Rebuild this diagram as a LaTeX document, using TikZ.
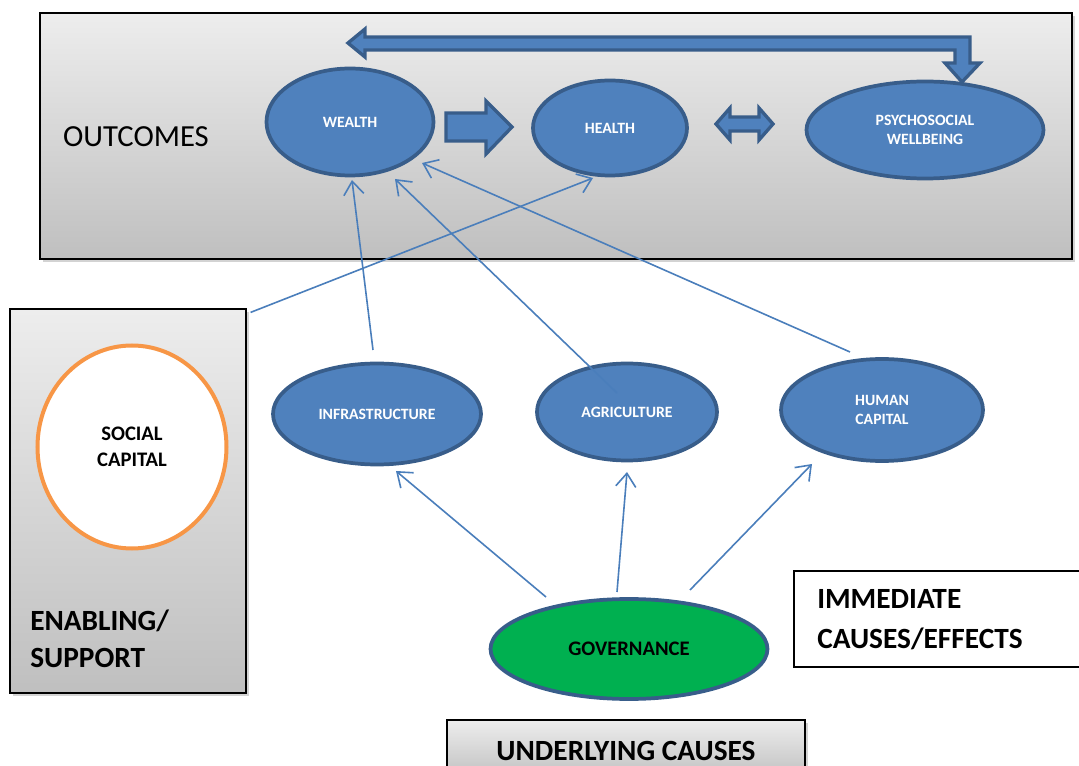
\documentclass[tikz,border=0pt]{standalone}
\usepackage{fontspec}
\setmainfont{Carlito}
\usetikzlibrary{shapes.geometric,arrows.meta,calc,shadows}
\definecolor{nodeblue}{HTML}{4F81BD}
\definecolor{nodeedge}{HTML}{385D8A}
\definecolor{linkblue}{HTML}{4A7EBB}
\definecolor{govgreen}{HTML}{00B050}
\definecolor{capor}{HTML}{F79646}
\begin{document}
\begin{tikzpicture}[x=0.75pt,y=-0.75pt,
  panel/.style={rectangle, draw=black, line width=0.9pt, top color=black!7, bottom color=black!25,
    drop shadow={shadow xshift=2pt,shadow yshift=-2pt,opacity=0.35}, inner sep=0pt},
  whitebox/.style={rectangle, draw=black, line width=0.8pt, fill=white, inner sep=0pt},
  blob/.style={ellipse, draw=nodeedge, fill=nodeblue, line width=2.8pt, inner sep=0pt,
    text=white, font=\fontsize{11.8}{14.3}\selectfont\bfseries, align=center},
  conn/.style={draw=linkblue, line width=1.2pt, -{Straight Barb[length=10pt,width=15pt]}},
  blockarrow/.style={fill=nodeblue, draw=nodeedge, line width=2.5pt, line join=miter},
  bigtext/.style={font=\fontsize{22}{30}\selectfont\bfseries, align=left, inner sep=0pt}
]
\useasboundingbox (0,0) rectangle (1079,766);

% panels
\node[panel, minimum width=774pt, minimum height=184.5pt] (outbox) at (556,136) {};
\node[panel, minimum width=177pt, minimum height=288pt] (socbox) at (128,501) {};
\node[whitebox, minimum width=222pt, minimum height=72pt] (immbox) at (942,619) {};
\node[panel, minimum width=268.5pt, minimum height=45pt] (undbox) at (626,750) {};

\node[font=\fontsize{23}{28}\selectfont, inner sep=0pt] (outtxt) at (136,137) {OUTCOMES};
\node[bigtext, anchor=west, font=\fontsize{22}{27.75}\selectfont\bfseries] (enatxt) at (30,639) {ENABLING/\\SUPPORT};
\node[bigtext, anchor=west] (immtxt) at (817,620) {IMMEDIATE\\CAUSES/EFFECTS};
\node[bigtext] (undtxt) at (626,751) {UNDERLYING CAUSES};

% ellipses
\node[blob, minimum width=125.25pt, minimum height=80.25pt] (wealth) at (350,122) {WEALTH};
\node[blob, minimum width=115.5pt, minimum height=71.25pt] (health) at (610,128) {HEALTH};
\node[blob, minimum width=177.75pt, minimum height=72.75pt] (psych) at (925,130) {PSYCHOSOCIAL\\WELLBEING};
\node[blob, minimum width=156pt, minimum height=75.75pt] (infra) at (377,414) {INFRASTRUCTURE};
\node[blob, minimum width=135pt, minimum height=72.75pt] (agri) at (627,412) {AGRICULTURE};
\node[blob, minimum width=151.5pt, minimum height=76.5pt] (human) at (882,410) {HUMAN\\CAPITAL};
\node[blob, fill=govgreen, text=black, font=\fontsize{15.5}{18}\selectfont\bfseries,
      minimum width=207.75pt, minimum height=75pt] (gov) at (629,649) {GOVERNANCE};
\node[ellipse, draw=capor, fill=white, line width=3pt, inner sep=0pt, align=center,
      font=\fontsize{15.5}{19.5}\selectfont\bfseries,
      minimum width=141.75pt, minimum height=152.25pt] (social) at (132,447) {SOCIAL\\CAPITAL};

% block arrows
\draw[blockarrow] (348,43) -- (365,29) -- (365,37) -- (970,37) -- (970,63) -- (980,63)
  -- (962,82) -- (945,63) -- (955,63) -- (955,50) -- (365,50) -- (365,57) -- cycle;
\draw[blockarrow] (446,113) -- (486,113) -- (486,101) -- (512,127) -- (486,154)
  -- (486,141) -- (446,141) -- cycle;
\draw[blockarrow] (716,124) -- (730,108) -- (730,117) -- (759,117) -- (759,108)
  -- (773,124) -- (759,140) -- (759,131) -- (730,131) -- (730,140) -- cycle;

% connectors
\draw[conn] ($(socbox.north east)+(4,4)$) -- ($(health.center)+(-17,50)$);
\draw[conn] ($(infra.center)+(-4,-64)$) -- ($(wealth.center)+(2,58)$);
\draw[conn] ($(agri.center)+(-10,-19)$) -- ($(wealth.center)+(45,57)$);
\draw[conn] ($(human.center)+(-32,-58)$) -- ($(wealth.center)+(72,41)$);
\draw[conn] ($(gov.center)+(-83,-52)$) -- ($(infra.center)+(19,57)$);
\draw[conn] ($(gov.center)+(-12,-57)$) -- ($(agri.center)+(0,60)$);
\draw[conn] ($(gov.center)+(61,-59)$) -- ($(human.center)+(-70,54)$);
\end{tikzpicture}
\end{document}
